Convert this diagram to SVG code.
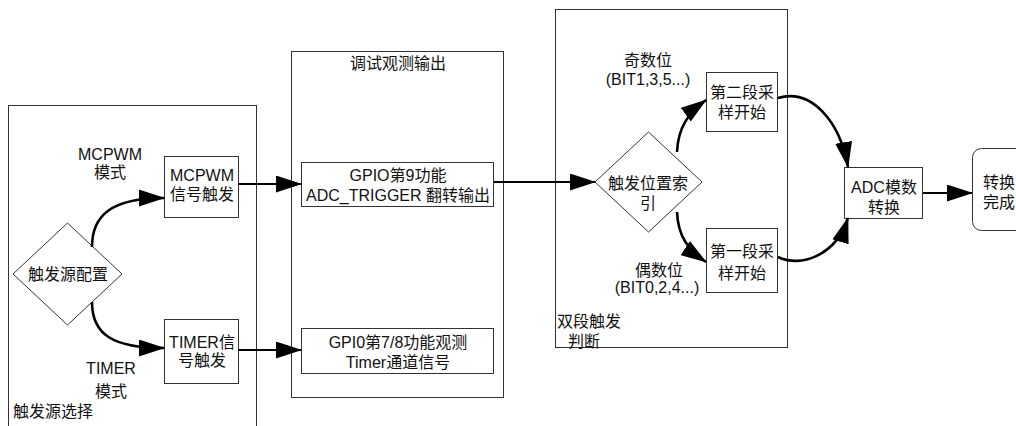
<svg xmlns="http://www.w3.org/2000/svg" width="1016" height="426" viewBox="0 0 1016 426">
<defs>
<marker id="ah" markerUnits="userSpaceOnUse" markerWidth="26" markerHeight="17" viewBox="0 0 26 17" refX="25" refY="8.5" orient="auto">
<path d="M0,0 L26,8.5 L0,17 z" fill="#000"/>
</marker>
<style>
.c{fill:#fff;stroke:#333;stroke-width:1}
.b{fill:#fff;stroke:#333;stroke-width:1}
.t{font-family:"Liberation Sans","Noto Sans CJK SC",sans-serif;font-size:16px;fill:#111}
.m{text-anchor:middle}
.e{fill:none;stroke:#000;stroke-width:2}
.cv{fill:none;stroke:#000;stroke-width:2.6}
</style>
</defs>
<rect fill="#fff" x="0" y="0" width="1016" height="426"/>
<g id="container-trigger-select">
<rect class="c" x="8.5" y="105.5" width="248" height="340"/>
<text class="t" x="13" y="417">触发源选择</text>
</g>
<g id="container-debug">
<rect class="c" x="291.5" y="51.5" width="212" height="346"/>
<text class="t m" x="398" y="69">调试观测输出</text>
</g>
<g id="container-dual">
<rect class="c" x="555.5" y="9.5" width="232" height="338"/>
<text class="t" x="557" y="327">双段触发</text>
<text class="t m" x="584" y="347">判断</text>
</g>
<g id="node-source">
<polygon class="b" points="13,274 67.5,223 122,274 67.5,325"/>
<text class="t m" x="68" y="280">触发源配置</text>
</g>
<g id="label-mcpwm">
<text class="t m" x="110" y="160">MCPWM</text>
<text class="t m" x="110" y="178">模式</text>
</g>
<g id="label-timer">
<text class="t m" x="111" y="374">TIMER</text>
<text class="t m" x="111" y="397">模式</text>
</g>
<g id="node-mcpwm">
<rect class="b" x="164.5" y="156.5" width="74" height="61"/>
<text class="t m" x="202" y="181">MCPWM</text>
<text class="t m" x="202" y="200">信号触发</text>
</g>
<g id="node-timer">
<rect class="b" x="164.5" y="319.5" width="74" height="64"/>
<text class="t m" x="202" y="348">TIMER信</text>
<text class="t m" x="202" y="366">号触发</text>
</g>
<g id="node-gpio9">
<rect class="b" x="301.5" y="162.5" width="192" height="44"/>
<text class="t m" x="398" y="181">GPIO第9功能</text>
<text class="t m" x="398" y="201">ADC_TRIGGER 翻转输出</text>
</g>
<g id="node-gpio78">
<rect class="b" x="301.5" y="328.5" width="192" height="45"/>
<text class="t m" x="398" y="348">GPI0第7/8功能观测</text>
<text class="t m" x="398" y="368">Timer通道信号</text>
</g>
<g id="node-index">
<polygon class="b" points="595,182 648.5,132 702,182 648.5,232"/>
<text class="t m" x="648" y="189">触发位置索</text>
<text class="t m" x="648" y="209">引</text>
</g>
<g id="label-odd">
<text class="t m" x="648" y="66">奇数位</text>
<text class="t m" x="648" y="85">(BIT1,3,5...)</text>
</g>
<g id="label-even">
<text class="t m" x="659" y="276">偶数位</text>
<text class="t m" x="657" y="293">(BIT0,2,4...)</text>
</g>
<g id="node-seg2">
<rect class="b" x="706.5" y="72.5" width="71" height="59"/>
<text class="t m" x="742" y="98">第二段采</text>
<text class="t m" x="742" y="118">样开始</text>
</g>
<g id="node-seg1">
<rect class="b" x="706.5" y="228.5" width="71" height="64"/>
<text class="t m" x="742" y="257">第一段采</text>
<text class="t m" x="742" y="279">样开始</text>
</g>
<g id="node-adc">
<rect class="b" x="844.5" y="167.5" width="78" height="51"/>
<text class="t m" x="884" y="193">ADC模数</text>
<text class="t m" x="884" y="213">转换</text>
</g>
<g id="node-done">
<rect class="b" x="972.5" y="148.5" width="60" height="82" rx="9" ry="9"/>
<text class="t" x="983" y="188">转换</text>
<text class="t" x="983" y="208">完成</text>
</g>
<g id="connectors">
<path class="cv" d="M92,247 C92,215 112,198 164,198" marker-end="url(#ah)"/>
<path class="cv" d="M92,302 C92,334 112,348 164,348" marker-end="url(#ah)"/>
<path class="e" d="M239,184 L301,184" marker-end="url(#ah)"/>
<path class="e" d="M239,350 L301,350" marker-end="url(#ah)"/>
<path class="e" d="M494,182 L595,182" marker-end="url(#ah)"/>
<path class="cv" d="M677,152 C678,128 688,113 706,100" marker-end="url(#ah)"/>
<path class="cv" d="M677,212 C678,236 688,250 706,262" marker-end="url(#ah)"/>
<path class="cv" d="M778,98 C812,88 840,122 848,167" marker-end="url(#ah)"/>
<path class="cv" d="M778,257 C800,268 836,256 848,218" marker-end="url(#ah)"/>
<path class="e" d="M923,193 L972,193" marker-end="url(#ah)"/>
</g>
</svg>
